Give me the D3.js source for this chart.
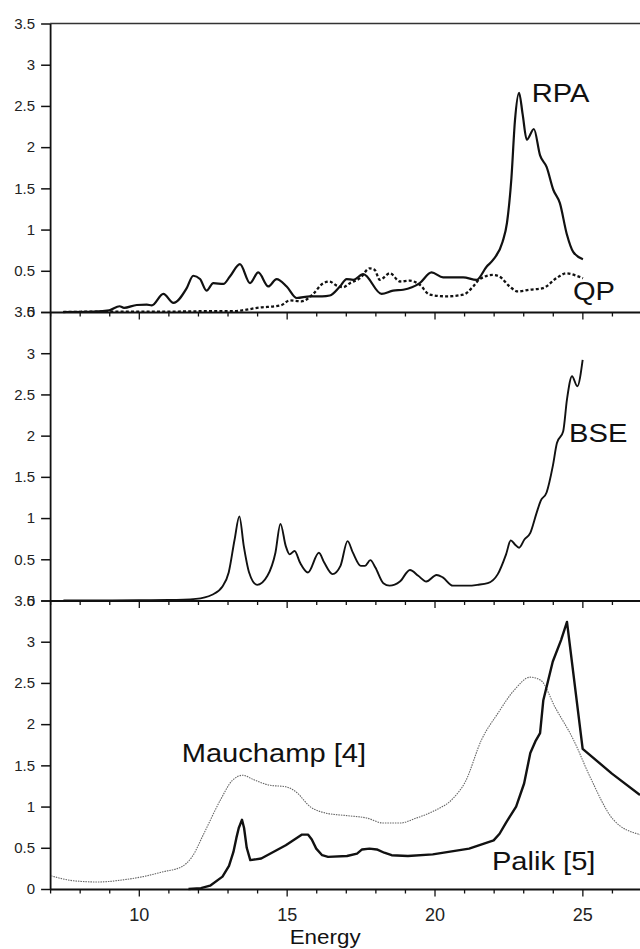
<!DOCTYPE html>
<html lang="en">
<head>
<meta charset="UTF-8">
<title>Loss spectra vs Energy</title>
<script src="https://cdnjs.cloudflare.com/ajax/libs/d3/7.9.0/d3.min.js"></script>
<style>
  html,body{margin:0;padding:0;background:#fff;}
  svg{display:block;font-family:"Liberation Sans",Arial,Helvetica,sans-serif;}
  .axis path,.axis line{stroke:#111;}
  .axis text{fill:#222;font-family:"Liberation Sans",Arial,sans-serif;}
</style>
</head>
<body>
<div id="chart"></div>
<script>
/* ---------- data ---------- */
const xTicks = d3.range(7, 28);            // minor every 1 eV, labelled every 5
const yTicks = [0, 0.5, 1, 1.5, 2, 2.5, 3, 3.5];

// top panel: RPA (solid) and QP (dotted)
const rpaE = [7.44, 8.5, 9.0, 9.35, 9.5, 9.93, 10.27, 10.44, 10.83, 11.17, 11.62, 11.84, 12.07, 12.29, 12.52, 12.86,
              13.08, 13.42, 13.76, 14.04, 14.38, 14.66, 15.0, 15.34, 15.79, 16.2, 16.46, 16.8, 17.03, 17.25, 17.59,
              18.21, 18.6, 18.94, 19.5, 19.9, 20.29, 20.97, 21.42, 21.76, 22.0, 22.3, 22.45, 22.6, 22.72, 22.86,
              22.98, 23.12, 23.36, 23.57, 23.79, 24.02, 24.24, 24.47, 24.69, 25.02];
const rpaV = [0, 0.005, 0.02, 0.07, 0.05, 0.085, 0.09, 0.08, 0.22, 0.11, 0.29, 0.44, 0.40, 0.26, 0.35, 0.34,
              0.43, 0.58, 0.35, 0.48, 0.31, 0.40, 0.31, 0.17, 0.19, 0.19, 0.20, 0.31, 0.40, 0.39, 0.46,
              0.22, 0.26, 0.27, 0.35, 0.48, 0.42, 0.42, 0.39, 0.55, 0.64, 0.85, 1.08, 1.62, 2.32, 2.66,
              2.40, 2.09, 2.22, 1.90, 1.76, 1.48, 1.32, 0.95, 0.73, 0.64];
const qpE  = [7.45, 9.0, 11.0, 12.5, 13.2, 13.5, 14.0, 14.8, 15.1, 15.5, 15.9, 16.2, 16.45, 16.69, 16.9,
              17.14, 17.48, 17.81, 17.98, 18.15, 18.49, 18.83, 19.16, 19.5, 19.84, 20.4, 20.97, 21.31, 21.53,
              21.98, 22.2, 22.54, 22.82, 23.22, 23.67, 24.12, 24.46, 24.8, 25.02];
const qpV  = [0, 0.005, 0.005, 0.01, 0.01, 0.02, 0.05, 0.08, 0.14, 0.13, 0.22, 0.34, 0.37, 0.32, 0.30,
              0.35, 0.41, 0.53, 0.51, 0.39, 0.47, 0.37, 0.38, 0.33, 0.21, 0.19, 0.21, 0.31, 0.40,
              0.45, 0.43, 0.31, 0.25, 0.27, 0.29, 0.41, 0.47, 0.44, 0.41];

// middle panel: BSE
const bseE = [7.45, 10.0, 11.0, 11.93, 12.48, 12.83, 13.04, 13.24, 13.4, 13.55, 13.73, 14.0, 14.35, 14.62, 14.79,
              14.97, 15.1, 15.27, 15.45, 15.72, 16.09, 16.27, 16.55, 16.82, 17.06, 17.24, 17.51, 17.65, 17.83,
              18.0, 18.27, 18.48, 18.83, 19.17, 19.45, 19.72, 20.07, 20.28, 20.62, 21.17, 21.45, 21.8, 22.14,
              22.42, 22.58, 22.72, 22.86, 23.04, 23.24, 23.45, 23.59, 23.79, 24.0, 24.14, 24.35, 24.48, 24.65,
              24.83, 25.01];
const bseV = [0, 0.003, 0.006, 0.02, 0.07, 0.17, 0.34, 0.74, 1.02, 0.66, 0.34, 0.19, 0.30, 0.58, 0.93,
              0.66, 0.56, 0.60, 0.46, 0.34, 0.58, 0.46, 0.32, 0.42, 0.72, 0.58, 0.42, 0.42, 0.49,
              0.40, 0.21, 0.18, 0.23, 0.37, 0.30, 0.23, 0.31, 0.28, 0.18, 0.18, 0.19, 0.21, 0.32,
              0.56, 0.73, 0.68, 0.64, 0.74, 0.82, 1.06, 1.21, 1.31, 1.63, 1.91, 2.05, 2.44, 2.72,
              2.60, 2.92];

// bottom panel: Palik [5] (solid, tabulated so drawn point to point) and Mauchamp [4] (dotted)
const palikE = [11.68, 12.1, 12.41, 12.83, 13.05, 13.2, 13.3, 13.38, 13.49, 13.56, 13.65, 13.77, 14.14, 14.97,
                15.52, 15.72, 15.85, 16.0, 16.2, 16.4, 17.04, 17.38, 17.55, 17.8, 18.05, 18.3, 18.55, 19.1,
                19.94, 21.17, 22.0, 22.2, 22.41, 22.76, 23.03, 23.24, 23.41, 23.57, 23.68, 24.0, 24.28, 24.48,
                25.01, 26.0, 26.95];
const palikV = [0, 0.01, 0.04, 0.15, 0.28, 0.45, 0.62, 0.74, 0.84, 0.74, 0.50, 0.35, 0.37, 0.53,
                0.66, 0.66, 0.60, 0.49, 0.41, 0.39, 0.40, 0.43, 0.48, 0.49, 0.48, 0.44, 0.41, 0.40,
                0.42, 0.49, 0.59, 0.67, 0.80, 1.0, 1.28, 1.65, 1.79, 1.89, 2.29, 2.76, 3.02, 3.24,
                1.70, 1.40, 1.14];
const mauE = [7.03, 7.79, 8.62, 9.45, 10.14, 10.83, 11.45, 11.8, 12.21, 12.76, 13.17, 13.52, 13.86, 14.41,
              14.97, 15.31, 15.79, 16.34, 17.04, 17.72, 18.27, 18.83, 19.38, 19.94, 20.63, 21.04, 21.59,
              22.14, 22.69, 23.24, 23.6, 24.07, 24.7, 25.26, 26.05, 26.95];
const mauV = [0.16, 0.10, 0.085, 0.11, 0.15, 0.21, 0.27, 0.39, 0.68, 1.08, 1.32, 1.38, 1.33, 1.26,
              1.24, 1.18, 1.00, 0.92, 0.89, 0.86, 0.80, 0.80, 0.86, 0.94, 1.10, 1.30, 1.81,
              2.13, 2.41, 2.57, 2.53, 2.21, 1.81, 1.36, 0.84, 0.66];

// curve labels: text, energy, value of the baseline-left point, panel
const labelText  = ["RPA", "QP", "BSE", "Mauchamp [4]", "Palik [5]"];
const labelE     = [23.29, 24.68, 24.55, 11.45, 21.94];
const labelV     = [2.55, 0.15, 1.92, 1.54, 0.23];
const labelPanel = [0, 0, 1, 2, 2];

/* ---------- layout ---------- */
const W = 640, H = 949;
const left = 50.1, rightEnd = 641.5;
const panelTop = [23.5, 312, 600.5], panelH = 288.5;

const svg = d3.select("#chart").append("svg").attr("width", W).attr("height", H);

const x = d3.scaleLinear().domain([7, 27]).range([left, rightEnd]);
const ys = panelTop.map(t => d3.scaleLinear().domain([0, 3.5]).range([t + panelH, t]));

const zip = (E, V) => E.map((e, i) => [e, V[i]]);

// top frame line
svg.append("line")
  .attr("x1", left).attr("x2", W).attr("y1", ys[0](3.5)).attr("y2", ys[0](3.5))
  .attr("stroke", "#333").attr("stroke-width", 1.5);

// axes per panel
ys.forEach((y, p) => {
  const gy = svg.append("g").attr("class", "axis")
    .attr("transform", `translate(${left},0)`)
    .call(d3.axisLeft(y).tickValues(yTicks).tickSize(9).tickSizeOuter(0).tickPadding(6)
      .tickFormat(d => String(d)));
  gy.select(".domain").attr("stroke-width", 1.8);
  gy.selectAll(".tick line").attr("stroke-width", 1.5);
  gy.selectAll("text").attr("font-size", 15);

  const gx = svg.append("g").attr("class", "axis")
    .attr("transform", `translate(0,${y(0)})`)
    .call(d3.axisBottom(x).tickValues(xTicks).tickSize(4).tickSizeOuter(0)
      .tickFormat(d => (p === 2 && d % 5 === 0) ? String(d) : ""));
  gx.select(".domain").attr("stroke-width", 1.8);
  gx.selectAll(".tick line").attr("stroke-width", 1.3)
    .attr("y2", d => d % 5 === 0 ? 7.5 : 4.5);
  gx.selectAll("text").attr("font-size", 18).attr("y", 19);
});

// curves
function drawLine(E, V, p, curve, style) {
  const line = d3.line().x(d => x(d[0])).y(d => ys[p](d[1])).curve(curve);
  svg.append("path").datum(zip(E, V))
    .attr("d", line).attr("fill", "none")
    .attr("stroke", style.color).attr("stroke-width", style.width)
    .attr("stroke-dasharray", style.dash || null)
    .attr("stroke-linejoin", "round");
}

drawLine(qpE, qpV, 0, d3.curveMonotoneX, {color: "#111", width: 2.3, dash: "3,2.2"});
drawLine(rpaE, rpaV, 0, d3.curveMonotoneX, {color: "#111", width: 2.2});
drawLine(bseE, bseV, 1, d3.curveMonotoneX, {color: "#111", width: 1.9});
drawLine(mauE, mauV, 2, d3.curveMonotoneX, {color: "#666", width: 1.1, dash: "1.5,1"});
drawLine(palikE, palikV, 2, d3.curveLinear, {color: "#111", width: 2.4});

// curve labels (slightly wide lettering, as in the figure)
labelText.forEach((t, i) => {
  svg.append("text")
    .attr("transform", `translate(${x(labelE[i])},${ys[labelPanel[i]](labelV[i])}) scale(1.12,1)`)
    .attr("font-size", 26).attr("fill", "#111")
    .text(t);
});

// x axis title
svg.append("text")
  .attr("transform", `translate(${x(16.3)},944) scale(1.12,1)`)
  .attr("text-anchor", "middle").attr("font-size", 20).attr("fill", "#111")
  .text("Energy");
</script>
</body>
</html>
